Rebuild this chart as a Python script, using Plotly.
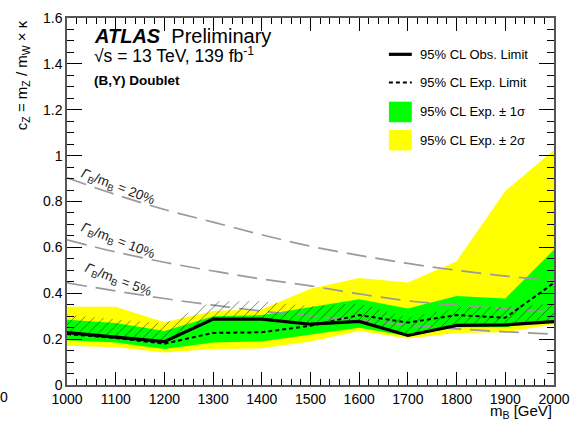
import plotly.graph_objects as go

# Vector-like B mass points [GeV]
mass = [1000, 1100, 1200, 1300, 1400, 1500, 1600, 1700, 1800, 1900, 2000]

# 95% CL limits on c_Z
obs_limit = [0.228, 0.210, 0.189, 0.287, 0.287, 0.265, 0.277, 0.216, 0.260, 0.262, 0.276]
exp_limit = [0.222, 0.205, 0.180, 0.227, 0.230, 0.258, 0.305, 0.272, 0.305, 0.293, 0.445]
exp_1s_lo = [0.195, 0.185, 0.157, 0.185, 0.190, 0.220, 0.250, 0.213, 0.252, 0.252, 0.280]
exp_1s_hi = [0.285, 0.270, 0.235, 0.300, 0.305, 0.341, 0.374, 0.334, 0.388, 0.377, 0.590]
exp_2s_lo = [0.171, 0.165, 0.142, 0.157, 0.160, 0.190, 0.235, 0.203, 0.227, 0.230, 0.265]
exp_2s_hi = [0.341, 0.341, 0.274, 0.323, 0.330, 0.420, 0.467, 0.447, 0.540, 0.846, 1.024]

# Contours of constant relative width Gamma_B / m_B
width_20 = [0.903, 0.830, 0.765, 0.710, 0.655, 0.605, 0.565, 0.530, 0.500, 0.475, 0.455]
width_10 = [0.633, 0.580, 0.535, 0.497, 0.462, 0.432, 0.397, 0.367, 0.348, 0.332, 0.317]
width_5 = [0.445, 0.410, 0.377, 0.348, 0.322, 0.302, 0.282, 0.262, 0.245, 0.232, 0.222]
width_labels = ["20%", "10%", "5%"]
width_label_y = [0.862, 0.627, 0.456]

# Excluded-side hatch thickness (in c_Z units)
hatch_offset = 0.078

x_ticks = list(range(1000, 2001, 100))
y_ticks = [0, 0.2, 0.4, 0.6, 0.8, 1.0, 1.2, 1.4, 1.6]

FONT = "Liberation Sans"
YELLOW = "#ffff00"
GREEN = "#00ff00"
GREY = "#9a9a9a"

fig = go.Figure()

# +-2 sigma band
fig.add_trace(go.Scatter(x=mass, y=exp_2s_lo, mode="lines", line=dict(width=0),
                         showlegend=False, hoverinfo="skip"))
fig.add_trace(go.Scatter(x=mass, y=exp_2s_hi, mode="lines", line=dict(width=0),
                         fill="tonexty", fillcolor=YELLOW, showlegend=False))
# +-1 sigma band
fig.add_trace(go.Scatter(x=mass, y=exp_1s_lo, mode="lines", line=dict(width=0),
                         showlegend=False, hoverinfo="skip"))
fig.add_trace(go.Scatter(x=mass, y=exp_1s_hi, mode="lines", line=dict(width=0),
                         fill="tonexty", fillcolor=GREEN, showlegend=False))

# Width contours
for w in (width_20, width_10, width_5):
    fig.add_trace(go.Scatter(x=mass, y=w, mode="lines", line_shape="spline",
                             line=dict(color=GREY, width=1.7, dash="20px,9px"),
                             showlegend=False))

# Hatched band above the observed limit
fig.add_trace(go.Scatter(x=mass, y=obs_limit, mode="lines", line=dict(width=0),
                         showlegend=False, hoverinfo="skip"))
fig.add_trace(go.Scatter(x=mass, y=[v + hatch_offset for v in obs_limit], mode="lines",
                         line=dict(width=0), fill="tonexty", fillcolor="rgba(0,0,0,0)",
                         fillpattern=dict(shape="/", fgcolor="black", bgcolor="rgba(0,0,0,0)",
                                          size=7, solidity=0.14),
                         showlegend=False, hoverinfo="skip"))

# Expected and observed limits
fig.add_trace(go.Scatter(x=mass, y=exp_limit, mode="lines",
                         line=dict(color="black", width=2, dash="4px,3px"), showlegend=False))
fig.add_trace(go.Scatter(x=mass, y=obs_limit, mode="lines",
                         line=dict(color="black", width=3.2), showlegend=False))

annotations = []
# Width contour labels
for lab, ly in zip(width_labels, width_label_y):
    annotations.append(dict(x=1105, y=ly, xref="x", yref="y", showarrow=False,
                            text="<i>Γ</i><sub>B</sub>/m<sub>B</sub> = " + lab,
                            textangle=21, font=dict(family=FONT, size=13.5, color="#222")))

# Header
annotations += [
    dict(x=0.051, y=0.952, xref="paper", yref="paper", xanchor="left", yanchor="middle",
         showarrow=False, text="<b><i>ATLAS</i></b>  Preliminary",
         font=dict(family=FONT, size=20, color="black")),
    dict(x=0.051, y=0.9, xref="paper", yref="paper", xanchor="left", yanchor="middle",
         showarrow=False, text="√s = 13 TeV, 139 fb<sup>-1</sup>",
         font=dict(family=FONT, size=17.5, color="black")),
    dict(x=0.051, y=0.829, xref="paper", yref="paper", xanchor="left", yanchor="middle",
         showarrow=False, text="<b>(B,Y) Doublet</b>",
         font=dict(family=FONT, size=13.5, color="black")),
]

# Axis titles
annotations += [
    dict(x=-0.092, y=1.0, xref="paper", yref="paper", xanchor="center", yanchor="top",
         showarrow=False, textangle=-90,
         text="c<sub>Z</sub> = m<sub>Z</sub> / m<sub>W</sub> × κ",
         font=dict(family=FONT, size=15, color="black")),
    dict(x=1.0, y=-0.041, xref="paper", yref="paper", xanchor="right", yanchor="top",
         showarrow=False, text="m<sub>B</sub> [GeV]",
         font=dict(family=FONT, size=15, color="black")),
    dict(x=-0.142, y=-0.005, xref="paper", yref="paper", xanchor="left", yanchor="top",
         showarrow=False, text="0", font=dict(family=FONT, size=14, color="black")),
]

# Legend (drawn by hand)
leg_x0, leg_x1 = 0.661, 0.708
leg_rows = [0.901, 0.824, 0.744, 0.667]
leg_text = ["95% CL Obs. Limit", "95% CL Exp. Limit",
            "95% CL Exp. ± 1σ", "95% CL Exp. ± 2σ"]
shapes = [
    dict(type="line", xref="paper", yref="paper", x0=leg_x0, x1=leg_x1,
         y0=leg_rows[0], y1=leg_rows[0], line=dict(color="black", width=3.2)),
    dict(type="line", xref="paper", yref="paper", x0=leg_x0, x1=leg_x1,
         y0=leg_rows[1], y1=leg_rows[1], line=dict(color="black", width=2, dash="4px,3px")),
    dict(type="rect", xref="paper", yref="paper", x0=leg_x0, x1=leg_x1,
         y0=leg_rows[2] - 0.028, y1=leg_rows[2] + 0.028, line=dict(width=0), fillcolor=GREEN),
    dict(type="rect", xref="paper", yref="paper", x0=leg_x0, x1=leg_x1,
         y0=leg_rows[3] - 0.028, y1=leg_rows[3] + 0.028, line=dict(width=0), fillcolor=YELLOW),
]
for t, ry in zip(leg_text, leg_rows):
    annotations.append(dict(x=0.72, y=ry, xref="paper", yref="paper", xanchor="left",
                            yanchor="middle", showarrow=False, text=t,
                            font=dict(family=FONT, size=13, color="black")))

axis_common = dict(showgrid=False, zeroline=False, showline=True, linecolor="#555",
                   linewidth=1.5, mirror="allticks", ticks="inside", tickcolor="black",
                   tickwidth=1, tickfont=dict(family=FONT, size=14, color="black"))

fig.update_layout(
    width=581, height=422,
    margin=dict(l=67, r=27, t=10, b=37),
    paper_bgcolor="white", plot_bgcolor="white",
    showlegend=False,
    xaxis=dict(range=[1000, 2000], tickvals=x_ticks, ticklen=13,
               minor=dict(dtick=20, ticklen=6, ticks="inside", tickcolor="black"),
               **axis_common),
    yaxis=dict(range=[0, 1.6], tickvals=y_ticks, ticktext=["0", "0.2", "0.4", "0.6", "0.8",
                                                         "1", "1.2", "1.4", "1.6"],
               ticklen=15,
               minor=dict(dtick=0.05, ticklen=7, ticks="inside", tickcolor="black"),
               **axis_common),
    annotations=annotations,
    shapes=shapes,
)

fig.write_html("out.html")
